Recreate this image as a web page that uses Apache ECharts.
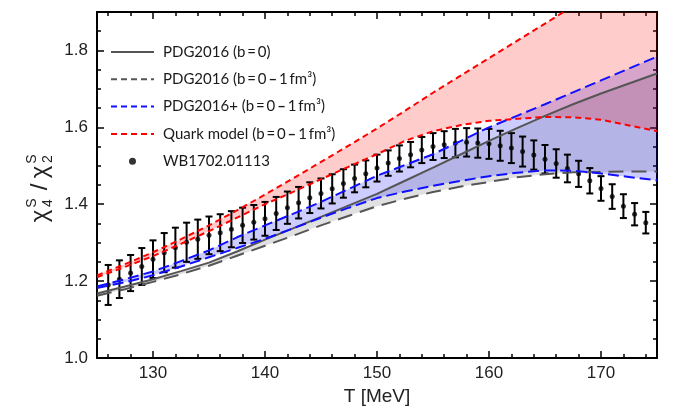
<!DOCTYPE html>
<html>
<head>
<meta charset="utf-8">
<script src="https://cdn.jsdelivr.net/npm/echarts@6/dist/echarts.min.js"></script>
<style>
  html, body { margin: 0; padding: 0; background: #fff; }
  #chart { width: 678px; height: 415px; }
</style>
</head>
<body>
<div id="chart"></div>
<script>
// model curves, sampled every 2.5 MeV
const temps = [125, 127.5, 130, 132.5, 135, 137.5, 140, 142.5, 145, 147.5, 150,
               152.5, 155, 157.5, 160, 162.5, 165, 167.5, 170, 172.5, 175];
const pdgB0 = [1.168, 1.186, 1.205, 1.226, 1.248, 1.277, 1.308, 1.337, 1.367, 1.397, 1.427,
               1.461, 1.495, 1.530, 1.565, 1.598, 1.630, 1.660, 1.688, 1.714, 1.740];
const pdgB1 = [1.162, 1.179, 1.198, 1.218, 1.240, 1.266, 1.292, 1.318, 1.345, 1.370, 1.395,
               1.414, 1.432, 1.446, 1.458, 1.470, 1.478, 1.483, 1.484, 1.485, 1.485];
const plusHi = [1.186, 1.205, 1.225, 1.252, 1.280, 1.314, 1.345, 1.375, 1.406, 1.440, 1.474,
                1.502, 1.530, 1.565, 1.600, 1.630, 1.660, 1.691, 1.722, 1.753, 1.784];
const plusLo = [1.182, 1.197, 1.215, 1.238, 1.262, 1.286, 1.310, 1.337, 1.365, 1.391, 1.416,
                1.433, 1.448, 1.461, 1.473, 1.482, 1.488, 1.487, 1.480, 1.471, 1.462];
const quarkHi = [1.215, 1.244, 1.275, 1.309, 1.345, 1.384, 1.425, 1.467, 1.510, 1.553, 1.597,
                 1.643, 1.690, 1.735, 1.780, 1.825, 1.870, 1.915, 1.960, 2.005, 2.050];
const quarkLo = [1.210, 1.237, 1.265, 1.297, 1.330, 1.365, 1.400, 1.432, 1.465, 1.498, 1.530,
                 1.565, 1.590, 1.606, 1.617, 1.622, 1.627, 1.626, 1.620, 1.605, 1.590];

// lattice points WB 1702.01113
const latT = [126, 127, 128, 129, 130, 131, 132, 133, 134, 135, 136, 137, 138, 139, 140, 141, 142,
              143, 144, 145, 146, 147, 148, 149, 150, 151, 152, 153, 154, 155, 156, 157, 158,
              159, 160, 161, 162, 163, 164, 165, 166, 167, 168, 169, 170, 171, 172, 173, 174];
const latVal = [1.190, 1.205, 1.221, 1.238, 1.257, 1.274, 1.287, 1.301, 1.309, 1.319, 1.326, 1.335,
                1.345, 1.353, 1.362, 1.376, 1.391, 1.404, 1.417, 1.428, 1.440, 1.454, 1.467, 1.479,
                1.494, 1.507, 1.519, 1.529, 1.541, 1.550, 1.555, 1.559, 1.561, 1.559, 1.557, 1.552,
                1.546, 1.537, 1.528, 1.517, 1.506, 1.493, 1.479, 1.461, 1.441, 1.420, 1.395, 1.374, 1.352];
const latErr = [0.052, 0.049, 0.047, 0.048, 0.049, 0.051, 0.052, 0.051, 0.051, 0.049, 0.048, 0.047,
                0.046, 0.045, 0.044, 0.043, 0.042, 0.041, 0.040, 0.039, 0.038, 0.037, 0.036, 0.035,
                0.035, 0.033, 0.034, 0.033, 0.034, 0.035, 0.035, 0.037, 0.037, 0.038, 0.039, 0.039,
                0.039, 0.039, 0.038, 0.037, 0.037, 0.036, 0.034, 0.033, 0.032, 0.032, 0.031, 0.029, 0.028];

const xMajor = [130, 140, 150, 160, 170];
const xMinor = [126, 128, 132, 134, 136, 138, 142, 144, 146, 148, 152, 154, 156, 158,
                162, 164, 166, 168, 172, 174];
const yMajor = [1.0, 1.2, 1.4, 1.6, 1.8];
const yMinor = [1.05, 1.1, 1.15, 1.25, 1.3, 1.35, 1.45, 1.5, 1.55, 1.65, 1.7, 1.75, 1.85];

const names = {
    b0: 'PDG2016 (b\u2009=\u20090)',
    pdg: 'PDG2016 (b\u2009=\u20090\u2009\u2013\u20091\u2009fm³)',
    plus: 'PDG2016+ (b\u2009=\u20090\u2009\u2013\u20091\u2009fm³)',
    quark: 'Quark model (b\u2009=\u20090\u2009\u2013\u20091\u2009fm³)',
    lat: 'WB1702.01113'
};

const pairs = arr => temps.map((t, i) => [t, arr[i]]);

// filled region between two curves, drawn as one polygon through the axes
function band(lo, hi, color) {
    return {
        type: 'custom', silent: true,
        data: temps.map((t, i) => [t, lo[i], hi[i]]),
        encode: { x: 0, y: [1, 2] },
        renderItem: function (params, api) {
            if (params.dataIndex !== 0) return;
            const upper = temps.map((t, i) => api.coord([t, hi[i]]));
            const lower = temps.map((t, i) => api.coord([t, lo[i]])).reverse();
            const cs = params.coordSys;
            return {
                type: 'polygon',
                shape: { points: upper.concat(lower) },
                style: { fill: color },
                clipPath: { type: 'rect', shape: { x: cs.x, y: cs.y, width: cs.width, height: cs.height } }
            };
        }
    };
}

function curve(name, arr, color, dash) {
    return { type: 'line', name: name, data: pairs(arr), symbol: 'none',
             lineStyle: { color: color, width: 2, type: dash || 'solid' }, itemStyle: { color: color } };
}

function xAx(pos, ticks, len, extra) {
    return Object.assign({
        type: 'value', min: 125, max: 175, position: pos,
        axisLine: { show: false },
        axisTick: { show: true, inside: true, length: len, customValues: ticks,
                    lineStyle: { color: '#000', width: 1.5 } },
        axisLabel: { show: false },
        splitLine: { show: false }
    }, extra || {});
}

function yAx(pos, ticks, len, extra) {
    return Object.assign({
        type: 'value', min: 1.0, max: 1.9, position: pos,
        axisLine: { show: false },
        axisTick: { show: true, inside: true, length: len, customValues: ticks,
                    lineStyle: { color: '#000', width: 1.5 } },
        axisLabel: { show: false },
        splitLine: { show: false }
    }, extra || {});
}

const tickFont = { fontFamily: 'Liberation Sans', fontSize: 17, color: '#222' };
const frame = { show: true, lineStyle: { color: '#000', width: 2 } };
const noDot = { color: 'rgba(0,0,0,0)', borderWidth: 0 };

const errData = latT.map((t, i) => [t, latVal[i], latErr[i]]);

const option = {
    animation: false,
    grid: { left: 97, right: 21, top: 12, bottom: 57 },
    xAxis: [
        xAx('bottom', xMajor, 7, {
            axisLine: frame,
            axisLabel: Object.assign({ show: true, customValues: xMajor, margin: 7 }, tickFont),
            name: 'T [MeV]', nameLocation: 'middle', nameGap: 27,
            nameTextStyle: { fontFamily: 'Liberation Sans', fontSize: 19, color: '#222' }
        }),
        xAx('bottom', xMinor, 4),
        xAx('top', xMajor, 7, { axisLine: frame }),
        xAx('top', xMinor, 4)
    ],
    yAxis: [
        yAx('left', yMajor, 7, {
            axisLine: frame,
            axisLabel: Object.assign({ show: true, customValues: yMajor, margin: 9,
                                       formatter: v => v.toFixed(1) }, tickFont)
        }),
        yAx('left', yMinor, 4),
        yAx('right', yMajor, 7, { axisLine: frame }),
        yAx('right', yMinor, 4)
    ],
    legend: {
        orient: 'vertical', left: 105, top: 38,
        itemWidth: 43, itemHeight: 7, itemGap: 9.3,
        formatter: name => name.replace('\u2013', '{d|\u2013}'),
        textStyle: {
            fontFamily: 'Lato', fontSize: 15, color: '#1a1a1a', lineHeight: 18, padding: [0, 0, 0, 4],
            rich: { d: { fontFamily: 'Lato', fontSize: 15, fontWeight: 'bold', color: '#1a1a1a', lineHeight: 18 } }
        },
        data: [
            { name: names.b0, itemStyle: noDot },
            { name: names.pdg, itemStyle: noDot, lineStyle: { type: [6, 4] } },
            { name: names.plus, itemStyle: noDot, lineStyle: { type: [6, 4] } },
            { name: names.quark, itemStyle: noDot, lineStyle: { type: [6, 4] } },
            { name: names.lat, icon: 'circle' }
        ]
    },
    graphic: [{
        type: 'group', x: 40, y: 187, rotation: Math.PI / 2,
        children: [
            { type: 'text', x: -29, y: 0, style: { text: 'χ', font: '24px "Liberation Sans"', fill: '#222', align: 'center', verticalAlign: 'middle' } },
            { type: 'text', x: -16, y: -8, style: { text: 'S', font: '14px "Liberation Sans"', fill: '#222', align: 'center', verticalAlign: 'middle' } },
            { type: 'text', x: -16, y: 8, style: { text: '4', font: '14px "Liberation Sans"', fill: '#222', align: 'center', verticalAlign: 'middle' } },
            { type: 'text', x: 0, y: 0, style: { text: '/', font: '24px "Liberation Sans"', fill: '#222', align: 'center', verticalAlign: 'middle' } },
            { type: 'text', x: 15, y: 0, style: { text: 'χ', font: '24px "Liberation Sans"', fill: '#222', align: 'center', verticalAlign: 'middle' } },
            { type: 'text', x: 28, y: -8, style: { text: 'S', font: '14px "Liberation Sans"', fill: '#222', align: 'center', verticalAlign: 'middle' } },
            { type: 'text', x: 28, y: 8, style: { text: '2', font: '14px "Liberation Sans"', fill: '#222', align: 'center', verticalAlign: 'middle' } }
        ]
    }],
    series: [
        band(pdgB1, pdgB0, 'rgba(0,0,0,0.12)'),
        band(plusLo, plusHi, 'rgba(0,0,255,0.2)'),
        curve(names.b0, pdgB0, '#555'),
        curve(names.pdg, pdgB1, '#555', [15, 8]),
        curve(names.plus, plusHi, '#1010ff', [11, 5]),
        curve(names.plus, plusLo, '#1010ff', [11, 5]),
        band(quarkLo, quarkHi, 'rgba(255,0,0,0.2)'),
        curve(names.quark, quarkHi, '#ff0000', [6, 4]),
        curve(names.quark, quarkLo, '#ff0000', [6, 4]),
        {
            type: 'custom', name: 'errbars', data: errData, encode: { x: 0, y: 1 },
            renderItem: function (params, api) {
                const t = api.value(0), v = api.value(1), e = api.value(2);
                const hi = api.coord([t, v + e]);
                const lo = api.coord([t, v - e]);
                const hw = 3.5;
                const st = { stroke: '#000', lineWidth: 2 };
                return {
                    type: 'group',
                    children: [
                        { type: 'line', shape: { x1: hi[0], y1: hi[1], x2: lo[0], y2: lo[1] }, style: st },
                        { type: 'line', shape: { x1: hi[0] - hw, y1: hi[1], x2: hi[0] + hw, y2: hi[1] }, style: st },
                        { type: 'line', shape: { x1: lo[0] - hw, y1: lo[1], x2: lo[0] + hw, y2: lo[1] }, style: st }
                    ]
                };
            }
        },
        {
            type: 'scatter', name: names.lat, data: latT.map((t, i) => [t, latVal[i]]),
            symbolSize: 5, itemStyle: { color: '#000' }
        }
    ]
};

const chart = echarts.init(document.getElementById('chart'));
chart.setOption(option);
</script>
</body>
</html>
